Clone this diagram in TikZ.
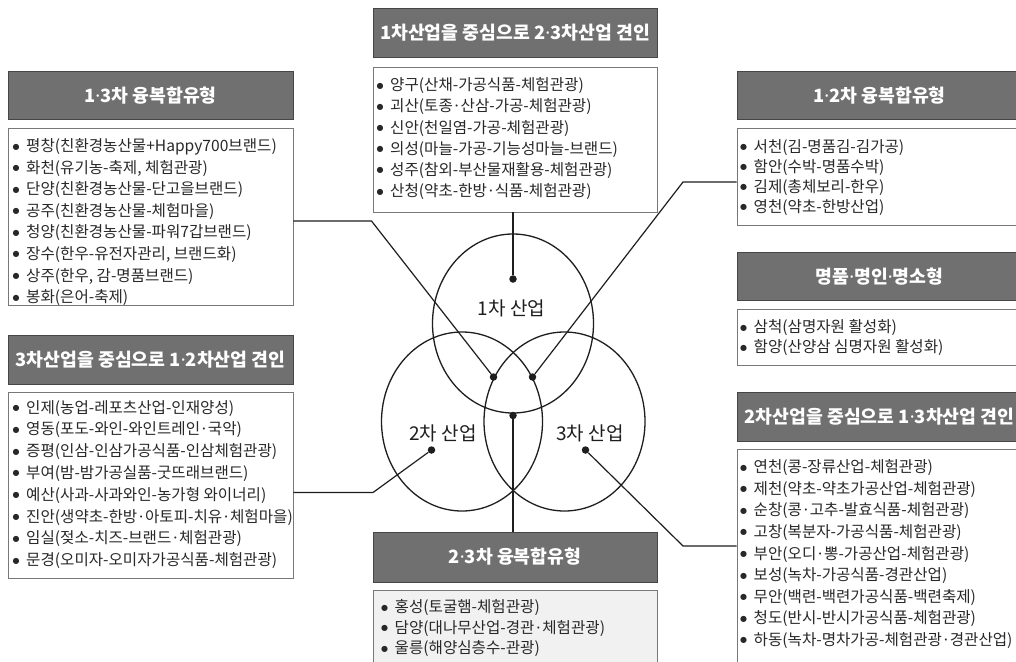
\documentclass[tikz,border=0pt]{standalone}
\usepackage{fontspec}
\setmainfont{Noto Sans CJK KR}
\newfontfamily\latinfont{Noto Sans}
\newfontfamily\symfont{DejaVu Sans}
\usetikzlibrary{shapes.geometric}
\newcommand\bl{\raisebox{2.6pt}{\symfont\fontsize{8}{8}\selectfont ●}\hspace{6.5pt}}
\newcommand\cdt{\makebox[0.5em][c]{\latinfont ·}}
\newcommand\hdt{{\latinfont ·}}
\definecolor{hdrfill}{RGB}{112,112,112}
\definecolor{hdrline}{RGB}{70,70,70}
\definecolor{boxline}{RGB}{120,120,120}
\definecolor{ink}{RGB}{30,30,30}
\definecolor{txt}{RGB}{40,40,40}
\definecolor{lightbg}{RGB}{241,241,241}
\begin{document}
\begin{tikzpicture}[x=1pt,y=-1pt,
  hdr/.style={draw=hdrline, fill=hdrfill, line width=0.8pt, text=white, font=\fontsize{18.3}{20}\selectfont\bfseries, inner sep=0pt},
  cbox/.style={draw=boxline, fill=white, line width=0.9pt, inner sep=0pt},
  lst/.style={anchor=north west, inner sep=0pt, align=left, text=txt},
  ring/.style={ellipse, draw=ink, line width=1.3pt, minimum width=161pt, minimum height=179pt, inner sep=0pt},
  dot/.style={circle, fill=ink, inner sep=0pt, minimum size=7.5pt},
  conn/.style={draw=ink, line width=1.2pt},
  lbl/.style={font=\fontsize{19}{21}\selectfont, text=ink, inner sep=0pt}]
\useasboundingbox (0,0) rectangle (1016,661);
\fill[white] (0,0) rectangle (1016,661);

% ---- boxes ----
\node[hdr, minimum width=285pt, minimum height=48pt] (l1h) at (150.5,95.5) {1\hdt3차 융복합유형};
\node[cbox, minimum width=285pt, minimum height=177pt] (l1c) at (150.5,216.5) {};
\node[lst, font=\fontsize{15.6}{21.57}\selectfont] (l1t) at (12.5,138.5) {\bl 평창(친환경농산물+Happy700브랜드)\\\bl 화천(유기농-축제, 체험관광)\\\bl 단양(친환경농산물-단고을브랜드)\\\bl 공주(친환경농산물-체험마을)\\\bl 청양(친환경농산물-파워7갑브랜드)\\\bl 장수(한우-유전자관리, 브랜드화)\\\bl 상주(한우, 감-명품브랜드)\\\bl 봉화(은어-축제)};

\node[hdr, minimum width=284pt, minimum height=49pt] (th) at (515,32.5) {1차산업을 중심으로 2\hdt3차산업 견인};
\node[cbox, minimum width=284pt, minimum height=145pt] (tc) at (515,139.5) {};
\node[lst, font=\fontsize{15.6}{21.2}\selectfont] (tt) at (376.5,77.5) {\bl 양구(산채-가공식품-체험관광)\\\bl 괴산(토종\cdt 산삼-가공-체험관광)\\\bl 신안(천일염-가공-체험관광)\\\bl 의성(마늘-가공-기능성마늘-브랜드)\\\bl 성주(참외-부산물재활용-체험관광)\\\bl 산청(약초-한방\cdt 식품-체험관광)};

\node[hdr, minimum width=285pt, minimum height=48pt] (r1h) at (879.5,95.5) {1\hdt2차 융복합유형};
\node[cbox, minimum width=285pt, minimum height=97pt] (r1c) at (879.5,176.5) {};
\node[lst, font=\fontsize{15.6}{20}\selectfont] (r1t) at (740,139) {\bl 서천(김-명품김-김가공)\\\bl 함안(수박-명품수박)\\\bl 김제(총체보리-한우)\\\bl 영천(약초-한방산업)};

\node[hdr, minimum width=285pt, minimum height=48.5pt] (r2h) at (879.5,276.25) {명품\hdt 명인\hdt 명소형};
\node[cbox, minimum width=285pt, minimum height=56pt] (r2c) at (879.5,337) {};
\node[lst, font=\fontsize{15.6}{20}\selectfont] (r2t) at (740,319.5) {\bl 삼척(삼명자원 활성화)\\\bl 함양(산양삼 심명자원 활성화)};

\node[hdr, minimum width=285pt, minimum height=49pt] (l2h) at (150.5,359.5) {3차산업을 중심으로 1\hdt2차산업 견인};
\node[cbox, minimum width=285pt, minimum height=186pt] (l2c) at (150.5,485) {};
\node[lst, font=\fontsize{15.6}{21.8}\selectfont] (l2t) at (12.5,400) {\bl 인제(농업-레포츠산업-인재양성)\\\bl 영동(포도-와인-와인트레인\cdt 국악)\\\bl 증평(인삼-인삼가공식품-인삼체험관광)\\\bl 부여(밤-밤가공실품-굿뜨래브랜드)\\\bl 예산(사과-사과와인-농가형 와이너리)\\\bl 진안(생약초-한방\cdt 아토피-치유\cdt 체험마을)\\\bl 임실(젖소-치즈-브랜드\cdt 체험관광)\\\bl 문경(오미자-오미자가공식품-체험관광)};

\node[hdr, minimum width=285pt, minimum height=49pt] (r3h) at (879.5,416.5) {2차산업을 중심으로 1\hdt3차산업 견인};
\node[cbox, minimum width=285pt, minimum height=231pt] (r3c) at (879.5,564.5) {};
\node[lst, font=\fontsize{15.6}{21.6}\selectfont] (r3t) at (740,459.5) {\bl 연천(콩-장류산업-체험관광)\\\bl 제천(약초-약초가공산업-체험관광)\\\bl 순창(콩\cdt 고추-발효식품-체험관광)\\\bl 고창(복분자-가공식품-체험관광)\\\bl 부안(오디\cdt 뽕-가공산업-체험관광)\\\bl 보성(녹차-가공식품-경관산업)\\\bl 무안(백련-백련가공식품-백련축제)\\\bl 청도(반시-반시가공식품-체험관광)\\\bl 하동(녹차-명차가공-체험관광\cdt 경관산업)};

\node[hdr, minimum width=284pt, minimum height=50pt] (bh) at (515,557) {2\hdt3차 융복합유형};
\node[cbox, fill=lightbg, minimum width=284pt, minimum height=90pt] (bc) at (515,635) {};
\node[lst, font=\fontsize{15.6}{20.5}\selectfont] (bt) at (381,599.5) {\bl 홍성(토굴햄-체험관광)\\\bl 담양(대나무산업-경관\cdt 체험관광)\\\bl 울릉(해양심층수-관광)};

% ---- circles ----
\node[ring] (c1) at (513,323.5) {};
\node[ring] (c2) at (462,421.5) {};
\node[ring] (c3) at (564.5,421.5) {};
\node[lbl] (c1l) at (511.5,308) {1차 산업};
\node[lbl] (c2l) at (443,433) {2차 산업};
\node[lbl] (c3l) at (590,433) {3차 산업};

% ---- dots and connectors ----
\node[dot] (d1) at (513,279) {};
\node[dot] (d12) at (493.5,377) {};
\node[dot] (d13) at (532.5,377) {};
\node[dot] (d23) at (513,415.5) {};
\node[dot] (d2) at (431.5,450) {};
\node[dot] (d3) at (585.5,450) {};
\coordinate (k12) at (371.5,221);
\coordinate (k13) at (683,182);
\coordinate (k2) at (373,492.5);
\coordinate (k3) at (683,546);

\draw[conn] (d1) -- (d1 |- tc.south);
\draw[conn] (d12) -- (k12) -- (k12 -| l1c.east);
\draw[conn] (d13) -- (k13) -- (k13 -| r1c.west);
\draw[conn] (d23) -- (d23 |- bh.north);
\draw[conn] (d2) -- (k2) -- (k2 -| l2c.east);
\draw[conn] (d3) -- (k3) -- (k3 -| r3c.west);
\end{tikzpicture}
\end{document}
